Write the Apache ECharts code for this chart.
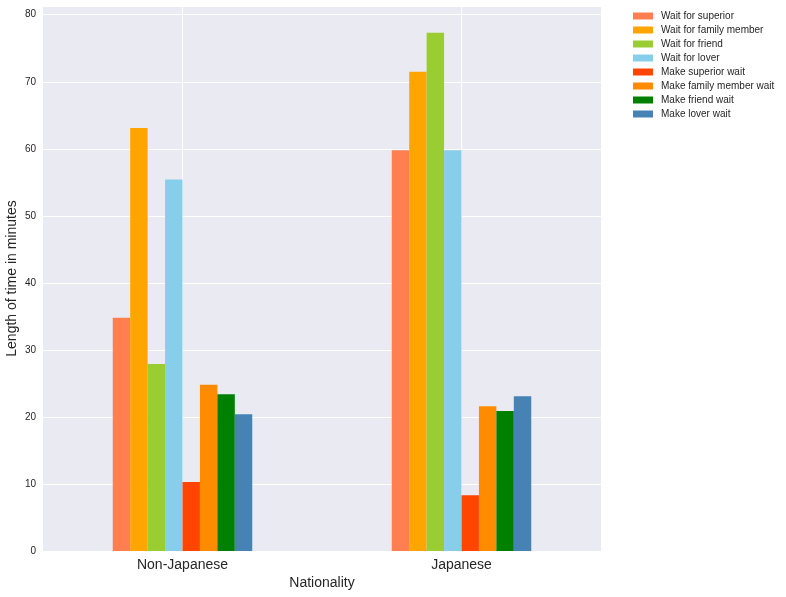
<!DOCTYPE html>
<html>
<head>
<meta charset="utf-8">
<script src="https://cdn.jsdelivr.net/npm/echarts@6/dist/echarts.min.js"></script>
<style>html,body{margin:0;padding:0;background:#fff;}#c{width:786px;height:597px;}</style>
</head>
<body>
<div id="c"></div>
<script>
const categories = ['Non-Japanese', 'Japanese'];
const seriesNames = ['Wait for superior', 'Wait for family member', 'Wait for friend', 'Wait for lover',
  'Make superior wait', 'Make family member wait', 'Make friend wait', 'Make lover wait'];
const waitSuperior = [34.8, 59.8];
const waitFamily = [63.1, 71.5];
const waitFriend = [27.9, 77.3];
const waitLover = [55.4, 59.8];
const makeSuperior = [10.3, 8.3];
const makeFamily = [24.8, 21.6];
const makeFriend = [23.4, 20.9];
const makeLover = [20.4, 23.1];
const yTicks = [0, 10, 20, 30, 40, 50, 60, 70, 80];
const colors = ['#FF7F50', '#FFA500', '#9ACD32', '#87CEEB', '#FF4500', '#FF8C00', '#008000', '#4682B4'];

const allData = [waitSuperior, waitFamily, waitFriend, waitLover, makeSuperior, makeFamily, makeFriend, makeLover];
const font = 'Liberation Sans, Arial, sans-serif';

const chart = echarts.init(document.getElementById('c'), null, {renderer: 'canvas'});
chart.setOption({
  animation: false,
  color: colors,
  grid: {left: 43, right: 185, top: 6, bottom: 46, backgroundColor: '#EAEAF2', show: true, borderWidth: 0,
    containLabel: false, outerBoundsMode: 'none'},
  legend: {
    orient: 'vertical', left: 628, top: 6,
    itemWidth: 20, itemHeight: 7, itemGap: 4,
    icon: 'rect',
    textStyle: {fontFamily: font, fontSize: 10, color: '#262626', lineHeight: 10, padding: [0, 0, 0, 3]},
    data: seriesNames
  },
  xAxis: [{
    type: 'category', data: categories,
    axisLine: {show: false}, axisTick: {show: false},
    splitLine: {show: false},
    axisLabel: {fontFamily: font, fontSize: 14, color: '#262626', margin: 7},
    name: 'Nationality', nameLocation: 'middle', nameGap: 25, nameMoveOverlap: false,
    nameTextStyle: {fontFamily: font, fontSize: 14, color: '#262626'}
  }, {
    type: 'category', data: ['', '', '', '', ''], boundaryGap: false, position: 'top',
    axisLine: {show: false}, axisTick: {show: false}, axisLabel: {show: false},
    splitLine: {show: true, interval: (i) => i === 1 || i === 3, lineStyle: {color: '#ffffff', width: 1}}
  }],
  yAxis: {
    type: 'value', min: 0, max: 81.3, interval: 10,
    axisLine: {show: false}, axisTick: {show: false},
    splitLine: {lineStyle: {color: '#ffffff', width: 1}},
    axisLabel: {fontFamily: font, fontSize: 10, color: '#262626', margin: 7,
      formatter: v => yTicks.includes(v) ? String(v) : ''},
    name: 'Length of time in minutes', nameLocation: 'middle', nameGap: 24, nameRotate: 90,
    nameMoveOverlap: false,
    nameTextStyle: {fontFamily: font, fontSize: 14, color: '#262626'}
  },
  series: seriesNames.map((n, i) => ({
    name: n, type: 'bar', data: allData[i], xAxisIndex: 0,
    barGap: '0%', barCategoryGap: '50%'
  }))
});
</script>
</body>
</html>
